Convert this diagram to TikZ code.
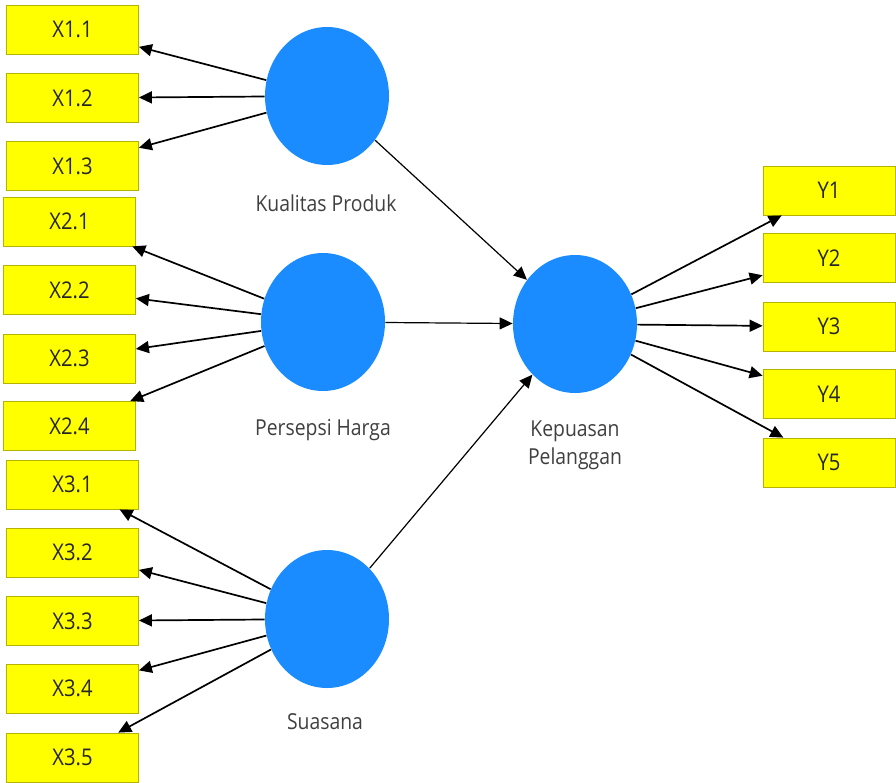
\documentclass[tikz,border=0pt]{standalone}
\usepackage{fontspec}
\setmainfont{Open Sans}[FakeStretch=0.88]
\usetikzlibrary{shapes.geometric, arrows.meta, positioning}
\definecolor{indfill}{HTML}{FFFF00}
\definecolor{indedge}{HTML}{B4B400}
\definecolor{latfill}{HTML}{1A8CFF}

\begin{document}
\begin{tikzpicture}[
    x=0.5pt, y=-0.5pt,
    every node/.style={font=\fontsize{11}{14}\selectfont},
    ind/.style={rectangle, draw=indedge, fill=indfill, minimum width=66pt,
                minimum height=24.5pt, inner sep=0pt, text=black!85,
                font=\fontsize{11.5}{14}\selectfont},
    lat/.style={ellipse, fill=latfill, minimum width=62pt, minimum height=69pt,
                inner sep=0pt},
    lbl/.style={text=black!75, align=center},
    load/.style={-{Triangle[length=6.5pt, width=6pt]}, line width=0.85pt},
    struct/.style={-{Triangle[length=6.5pt, width=6pt]}, line width=0.6pt}
]
    \useasboundingbox (0,0) rectangle (896,783);

    % latent variables
    \node[lat] (kp)  at (327,96)  {};
    \node[lat] (ph)  at (323,322) {};
    \node[lat] (su)  at (327,619) {};
    \node[lat] (kep) at (575,324) {};
    \node[lbl] (kpl)  at (326,203) {Kualitas Produk};
    \node[lbl] (phl)  at (323,430) {Persepsi Harga};
    \node[lbl] (sul)  at (325,722) {Suasana};
    \node[lbl] (kepl) at (575,445) {Kepuasan\\Pelanggan};

    % indicators
    \foreach \i/\y in {1/29.5, 2/98, 3/166}
        \node[ind] (x1\i) at (72.5,\y) {X1.\i};
    \foreach \i/\y in {1/221.5, 2/290, 3/358.5, 4/426}
        \node[ind] (x2\i) at (69.5,\y) {X2.\i};
    \foreach \i/\y in {1/484.5, 2/552.5, 3/621, 4/688.5, 5/757.5}
        \node[ind] (x3\i) at (72.5,\y) {X3.\i};
    \foreach \i/\y in {1/190.5, 2/258, 3/326.5, 4/394, 5/462.5}
        \node[ind] (y\i) at (829,\y) {Y\i};

    % outer loadings
    \foreach \i in {1,2,3} \draw[load] (kp) -- (x1\i);
    \foreach \i in {1,...,4} \draw[load] (ph) -- (x2\i);
    \foreach \i in {1,...,5} \draw[load] (su) -- (x3\i);
    \foreach \i in {1,...,5} \draw[load] (kep) -- (y\i);

    % inner model
    \draw[struct] (kp) -- (kep);
    \draw[struct] (ph) -- (kep);
    \draw[struct] (su) -- (kep);
\end{tikzpicture}
\end{document}
